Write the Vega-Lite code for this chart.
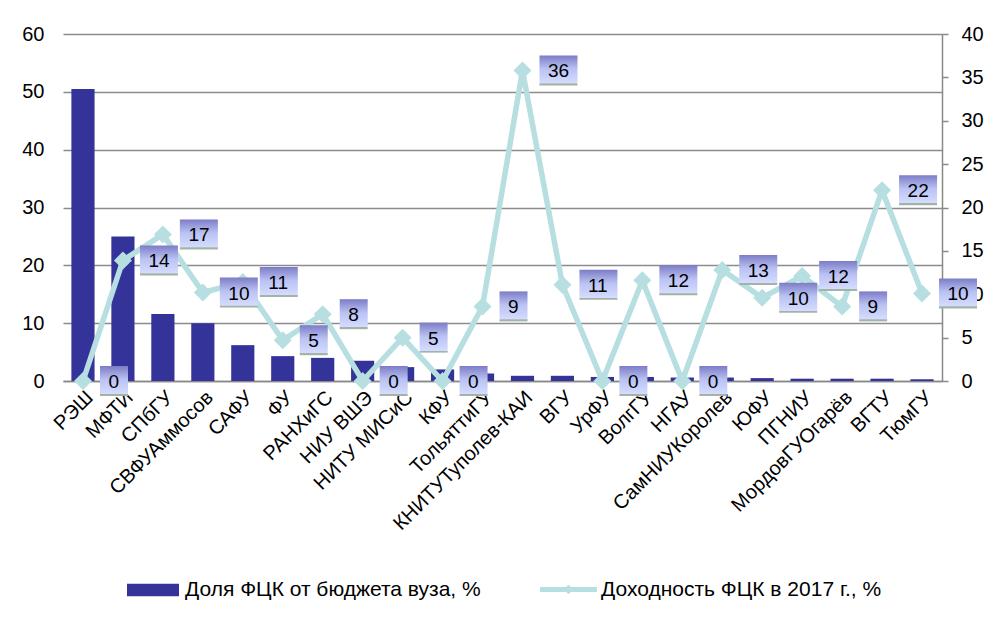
{
  "$schema": "https://vega.github.io/schema/vega-lite/v6.json",
  "width": 879,
  "height": 347,
  "autosize": {"type": "none"},
  "padding": {"left": 63, "top": 34, "right": 61, "bottom": 247},
  "background": "white",
  "config": {
    "view": {"stroke": null},
    "font": "Liberation Sans",
    "axis": {"labelFont": "Liberation Sans", "labelColor": "#000000", "labelFontSize": 20},
    "legend": {"labelFont": "Liberation Sans", "labelColor": "#000000", "labelFontSize": 21, "padding": 0, "labelLimit": 0}
  },
  "data": {
    "values": [
      {"name": "РЭШ", "share": 50.5, "ret": 0},
      {"name": "МФТИ", "share": 25.0, "ret": 13.9},
      {"name": "СПбГУ", "share": 11.6, "ret": 16.9},
      {"name": "СВФУАммосов", "share": 10.0, "ret": 10.2},
      {"name": "САФУ", "share": 6.2, "ret": 11.4},
      {"name": "ФУ", "share": 4.3, "ret": 4.7},
      {"name": "РАНХиГС", "share": 4.0, "ret": 7.7},
      {"name": "НИУ ВШЭ", "share": 3.5, "ret": 0},
      {"name": "НИТУ МИСиС", "share": 2.4, "ret": 5.0},
      {"name": "КФУ", "share": 2.0, "ret": 0},
      {"name": "ТольяттиГУ", "share": 1.3, "ret": 8.6},
      {"name": "КНИТУТуполев-КАИ", "share": 0.9, "ret": 35.8},
      {"name": "ВГУ", "share": 0.9, "ret": 11.1},
      {"name": "УрФУ", "share": 0.7, "ret": 0},
      {"name": "ВолгГУ", "share": 0.7, "ret": 11.6},
      {"name": "НГАУ", "share": 0.6, "ret": 0},
      {"name": "СамНИУКоролев", "share": 0.6, "ret": 12.8},
      {"name": "ЮФУ", "share": 0.5, "ret": 9.6},
      {"name": "ПГНИУ", "share": 0.4, "ret": 12.1},
      {"name": "МордовГУОгарёв", "share": 0.4, "ret": 8.6},
      {"name": "ВГТУ", "share": 0.4, "ret": 22.0},
      {"name": "ТюмГУ", "share": 0.3, "ret": 10.1}
    ]
  },
  "encoding": {
    "x": {
      "field": "name", "type": "nominal", "sort": null,
      "scale": {"paddingInner": 0.42, "paddingOuter": 0.21},
      "axis": {"title": null, "labelAngle": -45, "labelAlign": "right", "labelBaseline": "top", "labelPadding": 6, "ticks": false, "domainColor": "#888888", "domainWidth": 1.5, "labelFontSize": 20, "labelLimit": 0}
    }
  },
  "layer": [
    {
      "mark": {"type": "bar", "color": "#333399"},
      "encoding": {
        "y": {
          "field": "share", "type": "quantitative",
          "scale": {"domain": [0, 60], "nice": false},
          "axis": {"orient": "left", "title": null, "values": [0, 10, 20, 30, 40, 50, 60], "domain": false, "ticks": false, "labelPadding": 19, "grid": true, "gridColor": "#8c8c8c", "gridWidth": 1.5}
        },
        "color": {
          "datum": "Доля ФЦК от бюджета вуза, %", "type": "nominal",
          "scale": {"range": ["#333399"]},
          "legend": {"orient": "none", "legendX": 64, "legendY": 530, "title": null, "symbolType": "M-1,-0.24H1V0.24H-1Z", "symbolSize": 2704, "labelOffset": 6, "symbolStrokeWidth": 0}
        }
      }
    },
    {
      "encoding": {
        "y": {
          "field": "ret", "type": "quantitative",
          "scale": {"domain": [0, 40], "nice": false},
          "axis": {"orient": "right", "title": null, "values": [0, 5, 10, 15, 20, 25, 30, 35, 40], "grid": false, "domainColor": "#888888", "domainWidth": 1.5, "tickColor": "#888888", "tickWidth": 1.5, "tickSize": 6, "labelPadding": 13}
        }
      },
      "layer": [
        {
          "mark": {"type": "line", "strokeWidth": 5.5},
          "encoding": {
            "stroke": {
              "datum": "Доходность ФЦК в 2017 г., %", "type": "nominal",
              "scale": {"range": ["#b7dee0"]},
              "legend": {"orient": "none", "legendX": 477, "legendY": 527, "title": null, "symbolType": "M-1,-0.09H1V0.09H-1Z M0,-0.17L0.17,0L0,0.17L-0.17,0Z", "symbolSize": 3249, "symbolStrokeWidth": 0, "labelOffset": 4,
                "encode": {"symbols": {"update": {"fill": {"value": "#b7dee0"}, "stroke": {"value": "transparent"}}}}}
            }
          }
        },
        {
          "mark": {"type": "point", "shape": "diamond", "size": 324, "filled": true, "color": "#b7dee0", "opacity": 1}
        },
        {
          "mark": {
            "type": "point", "filled": true, "size": 4, "opacity": 1, "strokeWidth": 0,
            "fill": {"gradient": "linear", "x1": 0, "y1": 0, "x2": 0, "y2": 1,
              "stops": [
                {"offset": 0, "color": "#7c7cc6"},
                {"offset": 0.45, "color": "#bac2f3"},
                {"offset": 0.93, "color": "#d4dcff"},
                {"offset": 0.94, "color": "#a3b3a5"},
                {"offset": 1, "color": "#a3b3a5"}
              ]}
          },
          "encoding": {
            "shape": {"condition": {"test": "datum.ret >= 9.5", "value": "M17,-15H55V15H17Z"}, "value": "M17,-15H45V15H17Z"}
          }
        },
        {
          "mark": {"type": "text", "align": "left", "baseline": "middle", "xOffset": 25.5, "dy": 1, "fontSize": 19, "color": "#000000"},
          "encoding": {"text": {"field": "ret", "type": "quantitative", "format": ".0f"}}
        }
      ]
    }
  ],
  "resolve": {"scale": {"y": "independent"}}
}
